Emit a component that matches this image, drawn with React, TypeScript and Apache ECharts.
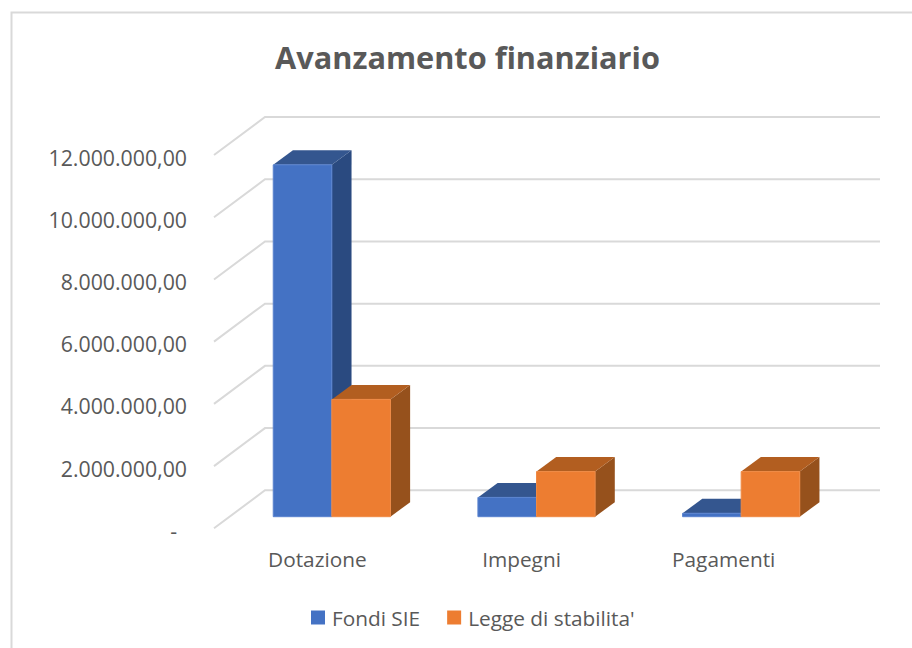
import React, { useEffect, useRef } from "react";
import * as echarts from "echarts";

const categories = ["Dotazione", "Impegni", "Pagamenti"];
const fondiSie = [11310000, 620000, 110000];
const leggeStabilita = [3770000, 1450000, 1450000];
const yTicks = [0, 2000000, 4000000, 6000000, 8000000, 10000000, 12000000];
const yTickLabels = ["-", "2.000.000,00", "4.000.000,00", "6.000.000,00", "8.000.000,00", "10.000.000,00", "12.000.000,00"];

const FONT = '"Open Sans", sans-serif';
const TEXT = "#595959";
const GRID_LEFT = 214;
const GRID_WIDTH = 614;
const GRID_TOP = 155;
const GRID_BOTTOM_Y = 528.3;
const BACK_DX = 51;
const BACK_DY = 38;
const BACK_END_X = 880;
const BAR_FRONT_DX = 15.5;
const BAR_FRONT_DY = 11.6;
const BAR_DEPTH_X = 19.7;
const BAR_DEPTH_Y = 14.5;
const BAR_BAND_RATIO = 58.6 / 204.7;
const CATEGORY_LABEL_PADDING = [
  [0, 0, 0, 2],
  [0, 0, 0, 1],
  [0, 4, 0, 0],
];

function barRenderer(side: number, front: string, edge: string, top: string, right: string) {
  return (_params: any, api: any) => {
    const cat = api.value(0);
    const val = api.value(1);
    const p = api.coord([cat, val]);
    const base = api.coord([cat, 0]);
    const w = api.size([1, 0])[0] * BAR_BAND_RATIO;
    const cx = p[0] + BAR_FRONT_DX;
    const x0 = side === 0 ? cx - w : cx;
    const x1 = x0 + w;
    const yTop = p[1] - BAR_FRONT_DY;
    const yBase = base[1] - BAR_FRONT_DY;
    return {
      type: "group",
      children: [
        {
          type: "polygon",
          shape: { points: [[x1, yTop], [x1 + BAR_DEPTH_X, yTop - BAR_DEPTH_Y], [x1 + BAR_DEPTH_X, yBase - BAR_DEPTH_Y], [x1, yBase]] },
          style: { fill: right },
        },
        {
          type: "polygon",
          shape: { points: [[x0, yTop], [x0 + BAR_DEPTH_X, yTop - BAR_DEPTH_Y], [x1 + BAR_DEPTH_X, yTop - BAR_DEPTH_Y], [x1, yTop]] },
          style: { fill: top },
        },
        {
          type: "rect",
          shape: { x: x0, y: yTop, width: w, height: yBase - yTop },
          style: { fill: front, stroke: edge, lineWidth: 1 },
        },
      ],
    };
  };
}

function wallRenderer(_params: any, api: any) {
  const p = api.coord([0, api.value(1)]);
  const x = GRID_LEFT;
  return {
    type: "polyline",
    shape: { points: [[x, p[1]], [x + BACK_DX, p[1] - BACK_DY], [BACK_END_X, p[1] - BACK_DY]] },
    style: { fill: "none", stroke: "#d9d9d9", lineWidth: 2 },
    silent: true,
  };
}

export default function App() {
  const ref = useRef<HTMLDivElement>(null);
  useEffect(() => {
    const chart = echarts.init(ref.current!, undefined, { renderer: "svg" });
    chart.setOption({
      animation: false,
      backgroundColor: "#ffffff",
      title: {
        text: "Avanzamento finanziario",
        left: 462.5,
        top: 36,
        textAlign: "center",
        textStyle: { fontFamily: FONT, fontSize: 30.7, fontWeight: "bold", color: TEXT },
      },
      graphic: [
        {
          type: "rect",
          z: -1,
          shape: { x: 11.5, y: 12.5, width: 940, height: 700 },
          style: { fill: "none", stroke: "#d9d9d9", lineWidth: 2 },
          silent: true,
        },
      ],
      legend: {
        left: 306,
        top: 602,
        itemWidth: 14,
        itemHeight: 14,
        itemGap: 27,
        icon: "rect",
        data: ["Fondi SIE", "Legge di stabilita'"],
        textStyle: { fontFamily: FONT, fontSize: 20.8, color: TEXT, padding: [0, 0, 0, 2] },
      },
      grid: { left: GRID_LEFT, width: GRID_WIDTH, top: GRID_TOP, height: GRID_BOTTOM_Y - GRID_TOP },
      xAxis: {
        type: "category",
        data: categories.map((c, i) => ({ value: c, textStyle: { padding: CATEGORY_LABEL_PADDING[i] } })),
        axisLine: { show: false },
        axisTick: { show: false },
        splitLine: { show: false },
        axisLabel: { fontFamily: FONT, fontSize: 20.8, color: TEXT, margin: 20 },
      },
      yAxis: {
        type: "value",
        min: 0,
        max: 12000000,
        interval: 2000000,
        axisLine: { show: false },
        axisTick: { show: false },
        splitLine: { show: false },
        axisLabel: {
          fontFamily: FONT,
          fontSize: 21.3,
          color: TEXT,
          margin: 27,
          padding: [4, 0, 0, 0],
          formatter: (v: number) => (v === 0 ? "{dash|" + yTickLabels[0] + "}" : yTickLabels[yTicks.indexOf(v)]),
          rich: { dash: { fontFamily: FONT, fontSize: 21.3, color: TEXT, padding: [0, 10, 0, 0] } },
        },
      },
      series: [
        {
          type: "custom",
          name: "walls",
          renderItem: wallRenderer,
          data: yTicks.map((v) => [0, v]),
          z: 1,
          silent: true,
        },
        {
          type: "custom",
          name: "Fondi SIE",
          itemStyle: { color: "#4472c4" },
          renderItem: barRenderer(0, "#4472c4", "#5a83cf", "#34568f", "#2a4a80"),
          data: fondiSie.map((v, i) => [i, v]),
          z: 2,
        },
        {
          type: "custom",
          name: "Legge di stabilita'",
          itemStyle: { color: "#ed7d31" },
          renderItem: barRenderer(1, "#ed7d31", "#ef8a45", "#b25e20", "#96511c"),
          data: leggeStabilita.map((v, i) => [i, v]),
          z: 3,
        },
      ],
    });
    return () => chart.dispose();
  }, []);
  return <div ref={ref} style={{ position: "fixed", left: 0, top: 0, width: 912, height: 648 }} />;
}
